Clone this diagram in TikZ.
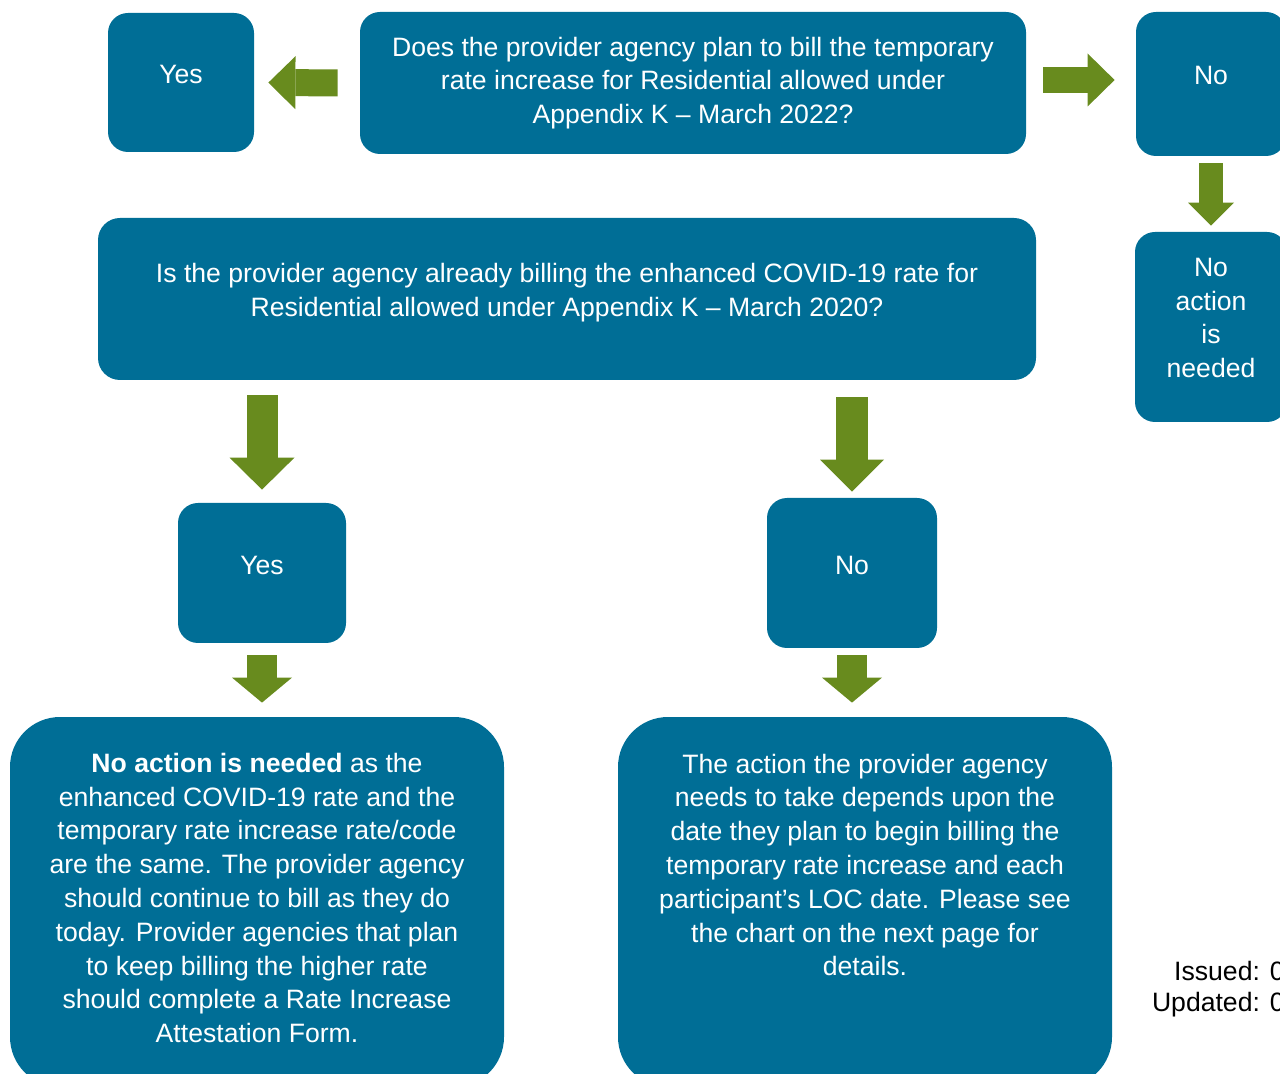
\documentclass[tikz,border=0pt]{standalone}
\usepackage{fontspec}
\setmainfont{Liberation Sans}
\usetikzlibrary{arrows.meta,calc}
\definecolor{boxblue}{RGB}{0,110,150}
\definecolor{arrowgreen}{RGB}{104,139,30}
\tikzset{
  box/.style={fill=boxblue, rounded corners=10pt, inner sep=0pt},
  bigbox/.style={box, rounded corners=25pt},
  boxtext/.style={text=white, align=center, inner sep=0pt, font=\fontsize{13.3}{16.9}\selectfont},
  blockarrow/.style n args={3}{draw=arrowgreen, line width=#1, -{Triangle[line width=0pt, width=#2, length=#3]}},
}
\begin{document}
\begin{tikzpicture}[x=0.5pt, y=-0.5pt]
	\useasboundingbox (0,0) rectangle (1280,1074);
	
	% Top row
	\node[box, minimum width=73pt, minimum height=69.5pt] (yes1) at (181,82.5) {};
	\node[box, minimum width=333pt, minimum height=71pt] (q1) at (693,83) {};
	\node[box, minimum width=75pt, minimum height=72pt] (no1) at (1211,84) {};
	\node[box, minimum width=76pt, minimum height=95pt] (noact) at (1211,327) {};
	
	\node[boxtext] (yes1-text) at (181,74) {Yes};
	\node[boxtext] (q1-text) at (693,83) {Does the provider agency plan to bill the temporary\\
		rate increase for Residential allowed under\\
		Appendix K – March 2022?};
	\node[boxtext] (no1-text) at (1211,75) {No};
	\node[boxtext] (noact-text) at (1211,318) {No\\ action\\ is\\ needed};
	
	% Second question
	\node[box, minimum width=469pt, minimum height=81pt, rounded corners=11pt] (q2) at (567,299) {};
	\node[boxtext] (q2-text) at (567,293) {Is the provider agency already billing the enhanced COVID-19 rate for\\
		Residential allowed under Appendix K – March 2020?};
	
	% Answers
	\node[box, minimum width=84pt, minimum height=70pt] (yes2) at (262,573) {};
	\node[box, minimum width=85pt, minimum height=75pt] (no2) at (852,573) {};
	\node[boxtext] (yes2-text) at (262,565) {Yes};
	\node[boxtext] (no2-text) at (852,565) {No};
	
	% Outcomes
	\node[bigbox, minimum width=247pt, minimum height=185pt] (left) at (257,902) {};
	\node[bigbox, minimum width=247pt, minimum height=185pt] (right) at (865,902) {};
	\node[boxtext] (left-text) at (257,898) {\textbf{No action is needed} as the\\
		enhanced COVID-19 rate and the\\
		temporary rate increase rate/code\\
		are the same. The provider agency\\
		should continue to bill as they do\\
		today. Provider agencies that plan\\
		to keep billing the higher rate\\
		should complete a Rate Increase\\
		Attestation Form.};
	\node[boxtext] (right-text) at (865,865) {The action the provider agency\\
		needs to take depends upon the\\
		date they plan to begin billing the\\
		temporary rate increase and each\\
		participant’s LOC date. Please see\\
		the chart on the next page for\\
		details.};
	
	% Arrows
	\draw[blockarrow={13.5pt}{26.5pt}{13.5pt}, shorten <=11pt, shorten >=7pt] (q1.west) -- (yes1.east);
	\draw[blockarrow={13pt}{26.5pt}{13.5pt}, shorten <=8.5pt, shorten >=10.5pt] ([yshift=1.5pt]q1.east) -- ([yshift=2pt]no1.west);
	\draw[blockarrow={12pt}{23pt}{11.5pt}, shorten <=3.5pt, shorten >=3pt] (no1.south) -- (noact.north);
	\draw[blockarrow={15.5pt}{32.5pt}{16pt}, shorten <=7.5pt, shorten >=6.5pt] (q2.south -| yes2.north) -- (yes2.north);
	\draw[blockarrow={16pt}{32pt}{16pt}, shorten <=8.5pt, shorten >=3pt] (q2.south -| no2.north) -- (no2.north);
	\draw[blockarrow={15pt}{30pt}{12.5pt}, shorten <=6pt, shorten >=7pt] (yes2.south) -- (yes2.south |- left.north);
	\draw[blockarrow={15pt}{30pt}{12.5pt}, shorten <=3.5pt, shorten >=7pt] (no2.south) -- (no2.south |- right.north);
	
	% Footer
	\node[anchor=east, align=right, inner sep=0pt, font=\fontsize{13.3}{15.5}\selectfont] (issued) at (1285,989) {Issued: 0\\Updated: 0};
\end{tikzpicture}
\end{document}
